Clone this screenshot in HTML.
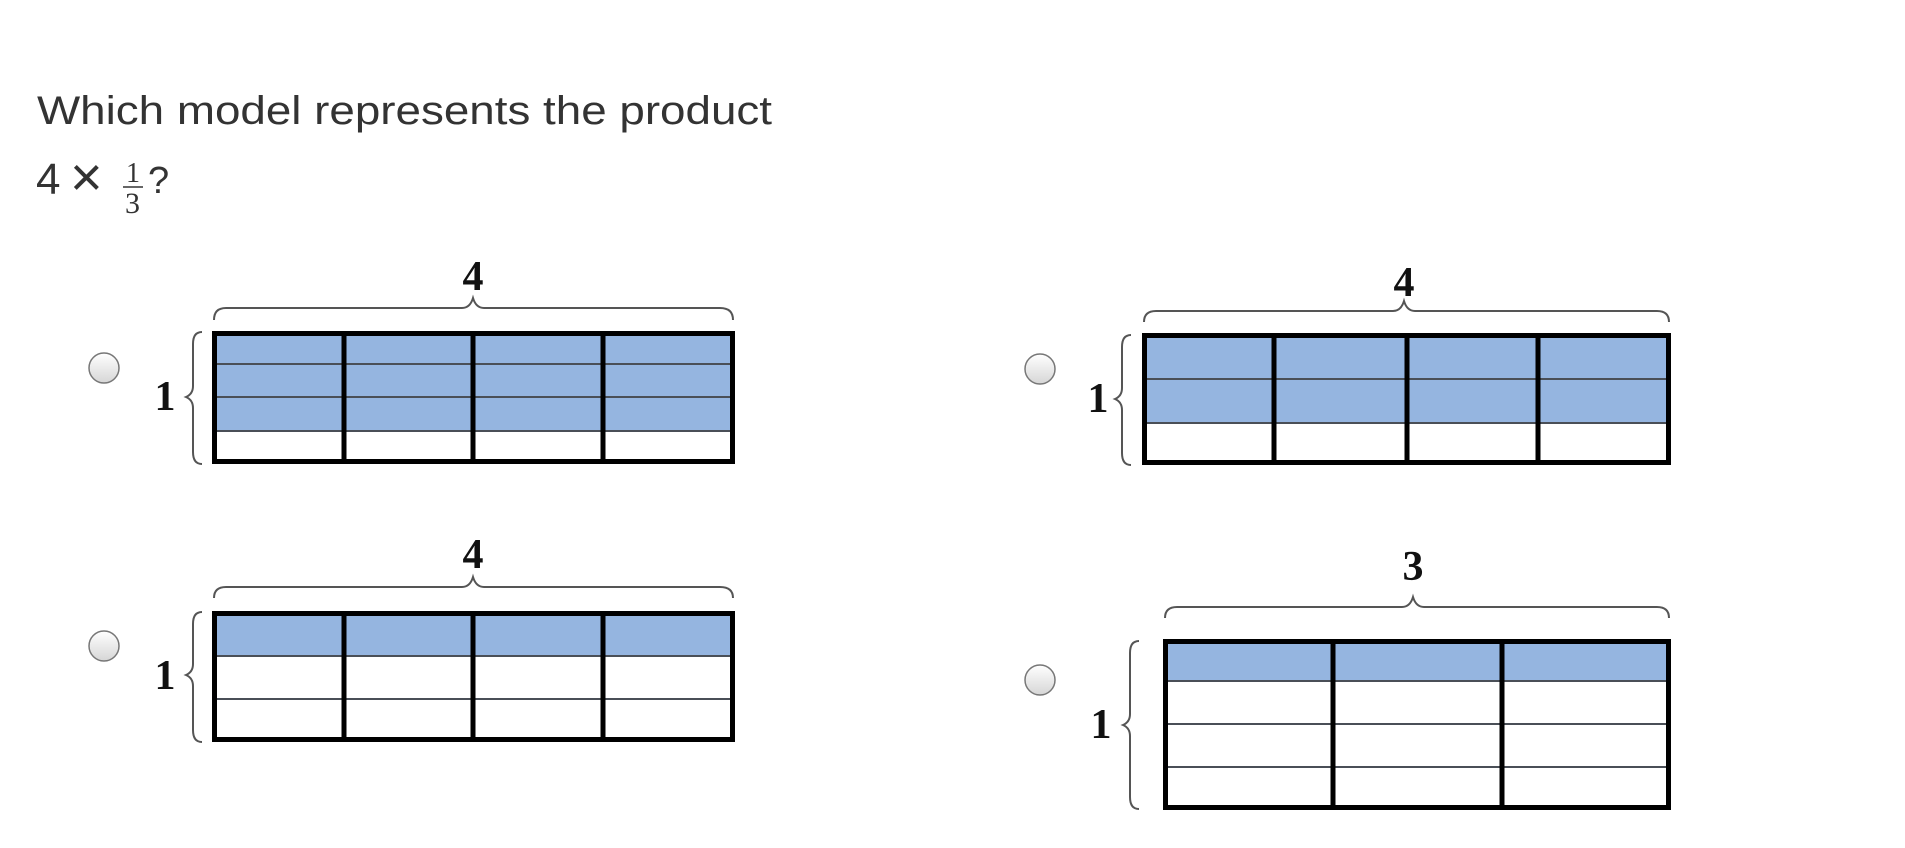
<!DOCTYPE html>
<html><head><meta charset="utf-8"><style>
html,body{margin:0;padding:0;background:#fff;width:1905px;height:848px;overflow:hidden}
svg{display:block}
</style></head><body>
<svg width="1905" height="848" viewBox="0 0 1905 848" xmlns="http://www.w3.org/2000/svg">
<defs>
<linearGradient id="rg" x1="0" y1="0" x2="0" y2="1"><stop offset="0" stop-color="#fff"/><stop offset="1" stop-color="#d6d6d6"/></linearGradient>
</defs>
<text x="37" y="124" font-family="Liberation Sans, sans-serif" font-size="40" fill="#333" textLength="735" lengthAdjust="spacingAndGlyphs">Which model represents the product</text>
<text x="36" y="194" font-family="Liberation Sans, sans-serif" font-size="44" fill="#333">4</text>
<text x="70" y="196" font-family="Liberation Sans, sans-serif" font-size="56" fill="#333" font-weight="normal">×</text>
<text x="126" y="182" font-family="Liberation Serif, serif" font-size="28" fill="#333">1</text>
<line x1="123" y1="187" x2="143" y2="187" stroke="#333" stroke-width="1.5"/>
<text x="125" y="213" font-family="Liberation Serif, serif" font-size="30" fill="#333">3</text>
<text x="148" y="193" font-family="Liberation Sans, sans-serif" font-size="38" fill="#333">?</text>

<g font-family="Liberation Serif, serif" font-weight="bold" font-size="42" fill="#111" text-anchor="middle">
<text x="473" y="290">4</text>
<text x="473" y="568">4</text>
<text x="165" y="410">1</text>
<text x="165" y="689">1</text>
</g>
<g transform="translate(-7,0)" font-family="Liberation Serif, serif" font-weight="bold" font-size="42" fill="#111" text-anchor="middle">
<text x="1411" y="296">4</text>
<text x="1420" y="580">3</text>
<text x="1105" y="412">1</text>
<text x="1108" y="738">1</text>
</g>

<g fill="none" stroke="#555" stroke-width="2">
<path d="M214 320 Q214 308 226 308 L462 308 Q470 308 473 298 Q476 308 484 308 L720 308 Q733 308 733 320"/>
<path d="M214 598 Q214 587 226 587 L462 587 Q470 587 473 577 Q476 587 484 587 L720 587 Q733 587 733 598"/>
<path d="M202 332 Q193 332 193 344 L193 386 Q193 394 186 397 Q193 400 193 408 L193 452 Q193 464 202 464"/>
<path d="M202 612 Q193 612 193 624 L193 664 Q193 672 186 675 Q193 678 193 686 L193 730 Q193 742 202 742"/>
</g>
<g fill="none" stroke="#555" stroke-width="2" transform="translate(-7,0)">
<path d="M1151 322 Q1151 311 1163 311 L1400 311 Q1408 311 1411 301 Q1414 311 1422 311 L1664 311 Q1676 311 1676 322"/>
<path d="M1172 618 Q1172 607 1184 607 L1409 607 Q1417 607 1420 597 Q1423 607 1431 607 L1664 607 Q1676 607 1676 618"/>
<path d="M1138 335 Q1129 335 1129 347 L1129 388 Q1129 396 1122 399 Q1129 402 1129 410 L1129 453 Q1129 465 1138 465"/>
<path d="M1146 641 Q1137 641 1137 653 L1137 714 Q1137 722 1130 725 Q1137 728 1137 736 L1137 797 Q1137 809 1146 809"/>
</g>

<g fill="url(#rg)" stroke="#777" stroke-width="1.5">
<circle cx="104" cy="368" r="15"/>
<circle cx="1040" cy="369" r="15"/>
<circle cx="104" cy="646" r="15"/>
<circle cx="1040" cy="680" r="15"/>
</g>

<!-- Model A -->
<rect x="212" y="331" width="523" height="100" fill="#95b5e0"/>
<g stroke="#4a4f57" stroke-width="2"><line x1="212" y1="364" x2="735" y2="364"/><line x1="212" y1="397" x2="735" y2="397"/><line x1="212" y1="431" x2="735" y2="431"/></g>
<g stroke="#000" stroke-width="5" fill="none"><rect x="214.5" y="333.5" width="518" height="128"/><line x1="344" y1="331" x2="344" y2="464"/><line x1="473" y1="331" x2="473" y2="464"/><line x1="603" y1="331" x2="603" y2="464"/></g>

<!-- Model C -->
<rect x="212" y="611" width="523" height="45" fill="#95b5e0"/>
<g stroke="#4a4f57" stroke-width="2"><line x1="212" y1="656" x2="735" y2="656"/><line x1="212" y1="699" x2="735" y2="699"/></g>
<g stroke="#000" stroke-width="5" fill="none"><rect x="214.5" y="613.5" width="518" height="126"/><line x1="344" y1="611" x2="344" y2="742"/><line x1="473" y1="611" x2="473" y2="742"/><line x1="603" y1="611" x2="603" y2="742"/></g>

<g transform="translate(-7,0)">
<!-- Model B -->
<rect x="1149" y="333" width="529" height="90" fill="#95b5e0"/>
<g stroke="#4a4f57" stroke-width="2"><line x1="1149" y1="379" x2="1678" y2="379"/><line x1="1149" y1="423" x2="1678" y2="423"/></g>
<g stroke="#000" stroke-width="5" fill="none"><rect x="1151.5" y="335.5" width="524" height="127"/><line x1="1281" y1="333" x2="1281" y2="465"/><line x1="1414" y1="333" x2="1414" y2="465"/><line x1="1545" y1="333" x2="1545" y2="465"/></g>

<!-- Model D -->
<rect x="1170" y="639" width="508" height="42" fill="#95b5e0"/>
<g stroke="#4a4f57" stroke-width="2"><line x1="1170" y1="681" x2="1678" y2="681"/><line x1="1170" y1="724" x2="1678" y2="724"/><line x1="1170" y1="767" x2="1678" y2="767"/></g>
<g stroke="#000" stroke-width="5" fill="none"><rect x="1172.5" y="641.5" width="503" height="166"/><line x1="1340" y1="639" x2="1340" y2="810"/><line x1="1509" y1="639" x2="1509" y2="810"/></g>
</g>
</svg>
</body></html>
